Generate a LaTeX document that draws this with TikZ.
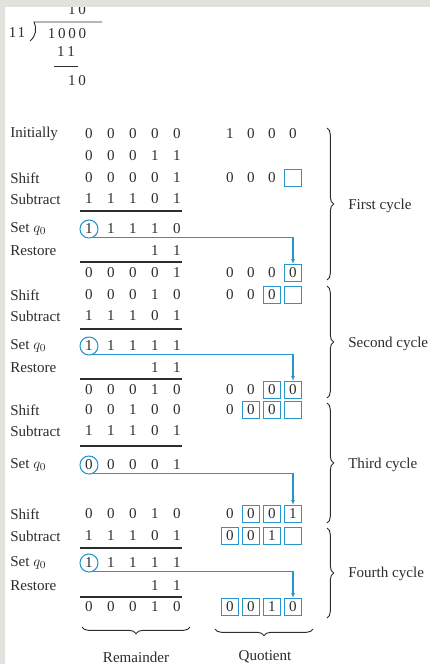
\documentclass[tikz,border=0pt]{standalone}
\usepackage{fontspec}
\setmainfont{Liberation Serif}
\usetikzlibrary{arrows.meta,decorations.pathreplacing}
\definecolor{qblue}{RGB}{40,150,205}
\definecolor{ink}{RGB}{45,45,45}
\definecolor{edge}{RGB}{226,226,220}

\tikzset{
    dig/.style={inner sep=0pt, text=ink, font=\fontsize{11.3}{13}\selectfont},
    lab/.style={dig, anchor=west},
    qbox/.style={dig, draw=qblue, line width=0.8pt, minimum width=12.5pt, minimum height=13pt},
    qcirc/.style={draw=qblue, circle, line width=0.8pt, minimum size=13.5pt, inner sep=0pt},
    qarrow/.style={qblue, line width=0.8pt, -{Latex[length=3.5pt,width=3pt]}},
    rule/.style={line width=0.9pt, ink},
    cyc/.style={decorate, decoration={brace, amplitude=5pt}, line width=0.7pt, ink}
}
% remainder digits: name, y, digits
\newcommand{\remrow}[3]{\foreach \d [count=\i] in {#3} {\node[dig] (#1\i) at ({67+22*\i},#2) {\d};}}
% quotient digits: name, y, digit/style pairs
\newcommand{\quorow}[3]{\foreach \d/\s [count=\i] in {#3} {\node[\s] (#1\i) at ({209+21*\i},#2) {\d};}}

\begin{document}
\begin{tikzpicture}[x=0.75pt, y=-0.75pt]
    \useasboundingbox (0,0) rectangle (430,664);

    % long division
    \node[dig] (dq) at (77,10) {1\kern2pt0};
    \fill[edge] (0,0) rectangle (430,7);
    \fill[edge] (0,0) rectangle (5,664);
    \node[dig] (dv) at (17,33) {1\kern1pt1};
    \node[dig] (dd) at (67,34) {1\kern2pt0\kern2pt0\kern2pt0};
    \draw[rule, line width=0.7pt] (102,22) -- (34,22) .. controls (37,29) and (36,36) .. (30,41);
    \node[dig] (ds) at (66,52) {1\kern2pt1};
    \draw[rule, line width=0.7pt] (54,66) -- (78,66);
    \node[dig] (dr) at (77,81) {1\kern2pt0};

    % first cycle
    \node[lab] (l1) at (10,134) {Initially};
    \remrow{a}{134}{0,0,0,0,0}
    \quorow{qa}{134}{1/dig,0/dig,0/dig,0/dig}
    \remrow{b}{156}{0,0,0,1,1}
    \node[lab] (l2) at (10,178) {Shift};
    \remrow{c}{178}{0,0,0,0,1}
    \quorow{qc}{178}{0/dig,0/dig,0/dig,/qbox}
    \node[lab] (l3) at (10,199) {Subtract};
    \remrow{d}{199}{1,1,1,0,1}
    \draw[rule] (80,211) -- (182,211);
    \node[lab] (l4) at (10,229) {Set $q_0$};
    \remrow{e}{229}{1,1,1,1,0}
    \node[qcirc] (c1) at (e1) {};
    \node[lab] (l5) at (10,251) {Restore};
    \node[dig] (f4) at (155,251) {1};
    \node[dig] (f5) at (177,251) {1};
    \draw[rule] (80,262) -- (182,262);
    \remrow{g}{273}{0,0,0,0,1}
    \quorow{qg}{273}{0/dig,0/dig,0/dig,0/qbox}
    \draw[qarrow] (c1.-70) -| (qg4.north);

    % second cycle
    \node[lab] (l6) at (10,295) {Shift};
    \remrow{h}{295}{0,0,0,1,0}
    \quorow{qh}{295}{0/dig,0/dig,0/qbox,/qbox}
    \node[lab] (l7) at (10,316) {Subtract};
    \remrow{i}{316}{1,1,1,0,1}
    \draw[rule] (80,329) -- (182,329);
    \node[lab] (l8) at (10,346) {Set $q_0$};
    \remrow{j}{346}{1,1,1,1,1}
    \node[qcirc] (c2) at (j1) {};
    \node[lab] (l9) at (10,368) {Restore};
    \node[dig] (k4) at (155,368) {1};
    \node[dig] (k5) at (177,368) {1};
    \draw[rule] (80,379) -- (182,379);
    \remrow{m}{390}{0,0,0,1,0}
    \quorow{qm}{390}{0/dig,0/dig,0/qbox,0/qbox}
    \draw[qarrow] (c2.-70) -| (qm4.north);

    % third cycle
    \node[lab] (l10) at (10,410) {Shift};
    \remrow{n}{410}{0,0,1,0,0}
    \quorow{qn}{410}{0/dig,0/qbox,0/qbox,/qbox}
    \node[lab] (l11) at (10,431) {Subtract};
    \remrow{o}{431}{1,1,1,0,1}
    \draw[rule] (80,446) -- (182,446);
    \node[lab] (l12) at (10,465) {Set $q_0$};
    \remrow{p}{465}{0,0,0,0,1}
    \node[qcirc] (c3) at (p1) {};

    % fourth cycle
    \node[lab] (l13) at (10,514) {Shift};
    \remrow{r}{514}{0,0,0,1,0}
    \quorow{qr}{514}{0/dig,0/qbox,0/qbox,1/qbox}
    \draw[qarrow] (c3.-70) -| (qr4.north);
    \node[lab] (l14) at (10,536) {Subtract};
    \remrow{s}{536}{1,1,1,0,1}
    \quorow{qs}{536}{0/qbox,0/qbox,1/qbox,/qbox}
    \draw[rule] (80,548) -- (182,548);
    \node[lab] (l15) at (10,563) {Set $q_0$};
    \remrow{t}{563}{1,1,1,1,1}
    \node[qcirc] (c4) at (t1) {};
    \node[lab] (l16) at (10,586) {Restore};
    \node[dig] (u4) at (155,586) {1};
    \node[dig] (u5) at (177,586) {1};
    \draw[rule] (80,597) -- (182,597);
    \remrow{v}{607}{0,0,0,1,0}
    \quorow{qv}{607}{0/qbox,0/qbox,1/qbox,0/qbox}
    \draw[qarrow] (c4.-70) -| (qv4.north);

    % braces
    \draw[cyc] (327,128) -- (327,280);
    \node[lab] (y1) at (348,206) {First cycle};
    \draw[cyc] (327,286) -- (327,398);
    \node[lab] (y2) at (348,344) {Second cycle};
    \draw[cyc] (327,403) -- (327,523);
    \node[lab] (y3) at (348,465) {Third cycle};
    \draw[cyc] (327,528) -- (327,618);
    \node[lab] (y4) at (348,574) {Fourth cycle};
    \draw[cyc] (190,627) -- (82,627);
    \node[dig] (z1) at (136,657) {Remainder};
    \draw[cyc] (313,629) -- (215,629);
    \node[dig] (z2) at (265,657) {Quotient};
\end{tikzpicture}
\end{document}
